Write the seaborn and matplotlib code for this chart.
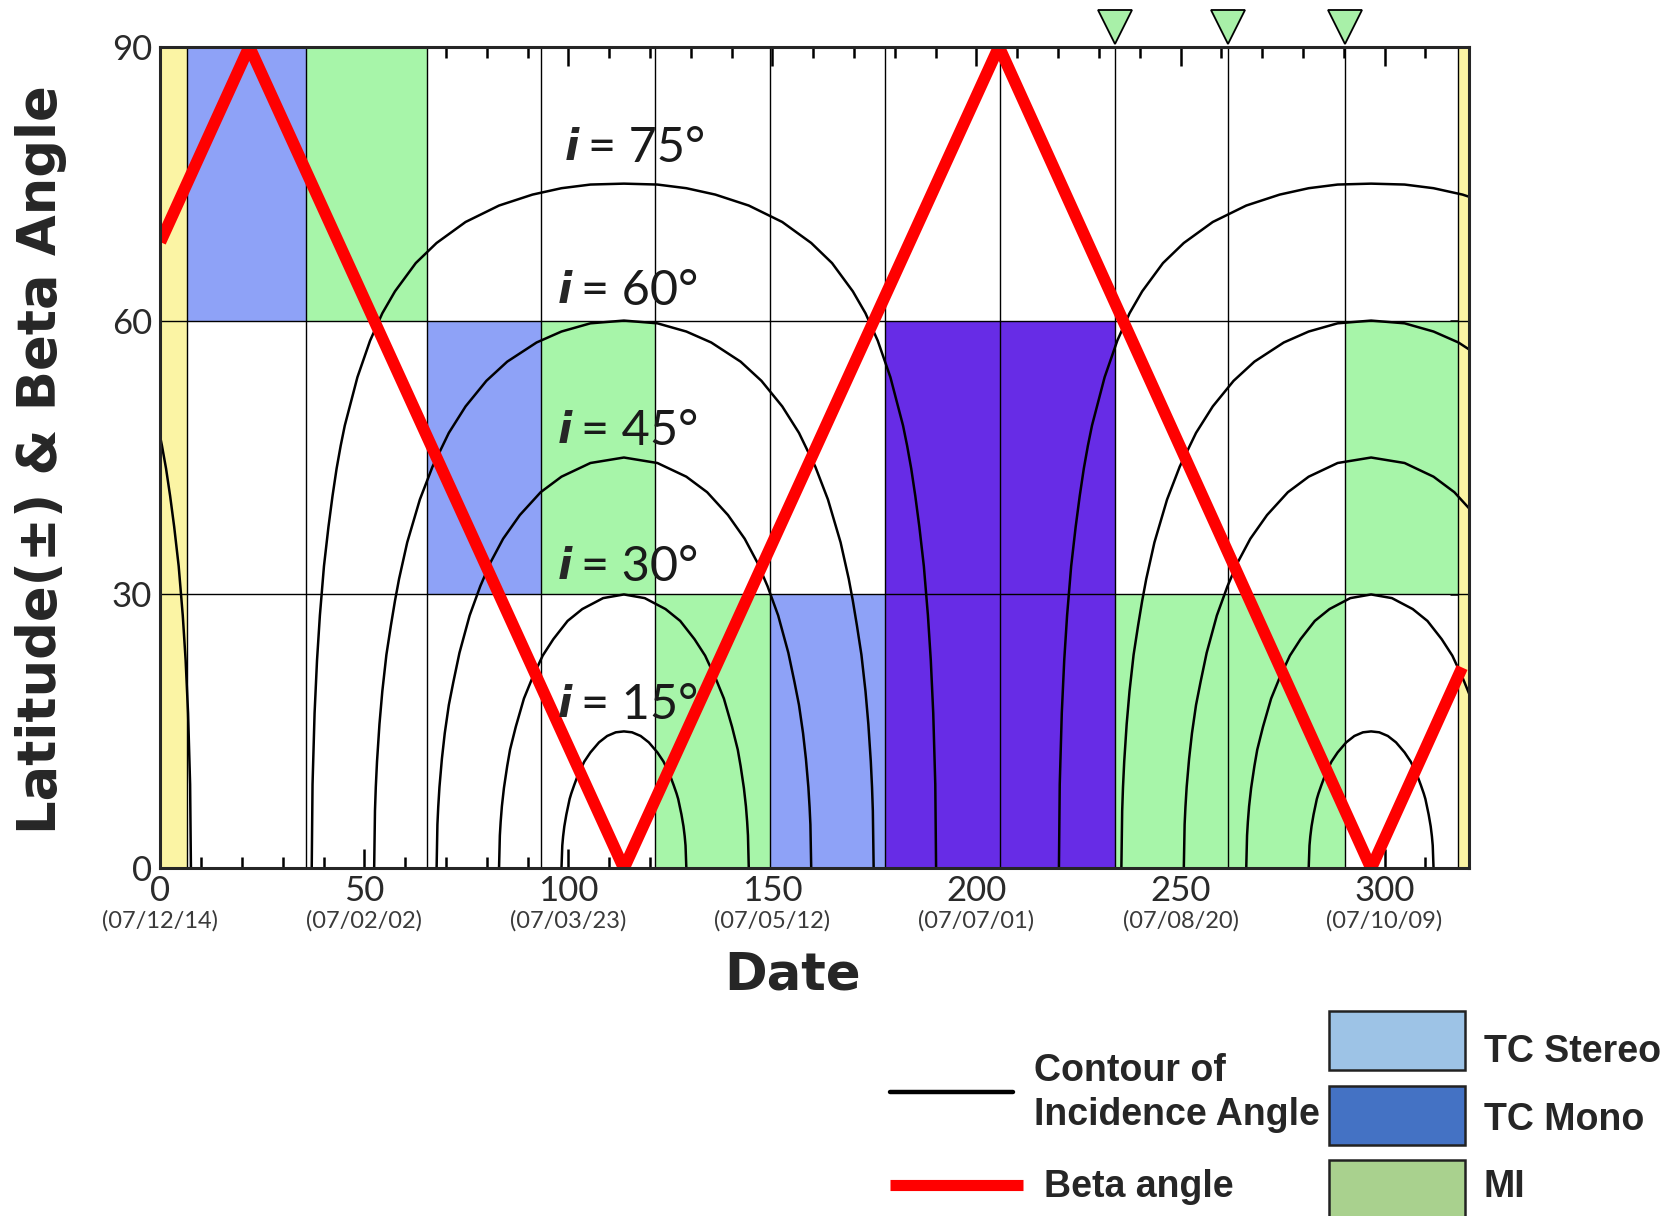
import pandas as pd
import matplotlib
matplotlib.use("Agg")
import matplotlib.pyplot as plt
import seaborn as sns
from matplotlib.lines import Line2D
from matplotlib.patches import Rectangle

# Beta angle (deg) against day number
beta_day = [0, 21.8, 113.6, 205.5, 296.7, 319]
beta_deg = [68.6, 90, 0, 90, 0, 22]

# Incidence-angle contours: half profile
# (days away from a beta minimum, latitude in deg)
contour_centres = [-69.0, 113.6, 296.7]
contour_angles = [75, 60, 45, 30, 15]
off_75 = [76.5, 76.3, 75.8, 75.2, 74.5, 73.5, 72.4, 71.4, 70.4, 69.4, 68.4, 65.3, 62.2,
          59.2, 56.1, 51.0, 45.9, 38.8, 30.6, 22.4, 15.3, 8.2, 0]
lat_75 = [0, 9.2, 17.0, 22.8, 27.7, 33.1, 37.4, 40.8, 43.8, 46.3, 48.5, 53.8, 57.8,
          60.8, 63.2, 66.3, 68.5, 70.8, 72.6, 73.8, 74.5, 74.9, 75]
off_60 = [61.2, 61.0, 60.8, 60.5, 59.9, 59.2, 58.2, 57.1, 56.1, 55.1, 53.1, 50.0, 46.9,
          42.9, 38.8, 33.7, 28.6, 21.4, 15.3, 8.2, 0]
lat_60 = [0, 6.3, 8.9, 11.7, 15.8, 19.4, 23.4, 26.6, 29.3, 31.7, 35.7, 40.4, 44.0,
          47.7, 50.6, 53.4, 55.5, 57.6, 58.8, 59.7, 60]
off_45 = [45.9, 45.7, 45.5, 45.2, 44.6, 43.9, 42.9, 41.8, 40.3, 37.8, 35.2, 32.7, 29.6,
          25.5, 20.4, 15.3, 8.2, 0]
lat_45 = [0, 4.8, 6.7, 8.9, 12.0, 14.8, 17.9, 20.4, 23.6, 27.7, 30.9, 33.5, 36.1,
          38.7, 41.2, 42.9, 44.4, 45]
off_30 = [30.6, 30.4, 30.2, 29.9, 29.4, 28.6, 27.9, 26.5, 24.5, 22.4, 19.9, 17.3, 13.8,
          10.2, 5.1, 0]
lat_30 = [0, 3.6, 5.1, 6.8, 8.8, 11.2, 13.0, 15.5, 18.6, 20.9, 23.3, 25.1, 27.1,
          28.4, 29.6, 30]
off_15 = [15.3, 15.1, 14.9, 14.6, 14.1, 13.3, 12.9, 12.2, 11.2, 9.7, 8.2, 6.1, 4.1, 2.0, 0]
lat_15 = [0, 2.5, 3.5, 4.6, 5.9, 7.6, 8.2, 9.1, 10.3, 11.7, 12.7, 13.8, 14.5, 14.9, 15]
contour_offsets = [off_75, off_60, off_45, off_30, off_15]
contour_lats = [lat_75, lat_60, lat_45, lat_30, lat_15]

# label positions for the contours
label_day = [99.0, 97.4, 97.4, 97.4, 97.4]
label_lat = [78.9, 63.2, 47.9, 33.0, 17.9]

# observation blocks: start day, end day, lat low, lat high, kind
block_start = [0, 6.6, 35.8, 65.4, 93.3, 121.3, 149.3, 177.5, 233.9, 290.2, 317.9]
block_end = [6.6, 35.8, 65.4, 93.3, 121.3, 149.3, 177.5, 233.9, 290.2, 317.9, 320.7]
block_low = [0, 60, 60, 30, 30, 0, 0, 0, 0, 30, 0]
block_high = [90, 90, 90, 60, 60, 30, 30, 60, 30, 60, 90]
block_kind = ["sun", "tc", "mi", "tc", "mi", "mi", "tc", "both", "mi", "mi", "sun"]
block_colors = {"sun": "#fbf4a4", "tc": "#8ea2f7", "mi": "#a7f5a9", "both": "#672ce6"}

grid_days = [6.6, 35.8, 65.4, 93.3, 121.3, 149.3, 177.5, 205.8, 233.9, 261.6, 290.2, 317.9]
grid_lats = [30, 60]
marker_days = [233.9, 261.6, 290.2]

tick_days = [0, 50, 100, 150, 200, 250, 300]
tick_dates = ["(07/12/14)", "(07/02/02)", "(07/03/23)", "(07/05/12)",
              "(07/07/01)", "(07/08/20)", "(07/10/09)"]

legend_names = ["TC Stereo", "TC Mono", "MI"]
legend_colors = ["#9dc3e6", "#4472c4", "#a9d18e"]

# contour table for seaborn
rows = []
for ci, c in enumerate(contour_centres):
    for ang, off, lat in zip(contour_angles, contour_offsets, contour_lats):
        xs = [c - o for o in off] + [c + o for o in off[-2::-1]]
        ys = list(lat) + list(lat[-2::-1])
        for x, y in zip(xs, ys):
            rows.append((f"{ci}_{ang}", x, y))
arcs = pd.DataFrame(rows, columns=["curve", "day", "lat"])

sns.set_style("ticks")
plt.rcParams["font.family"] = ["Lato", "DejaVu Sans"]

W, H = 1677, 1216
fig = plt.figure(figsize=(W / 100, H / 100), dpi=100)
ax = fig.add_axes([0.0956, 0.2859, 0.7804, 0.6757])

for x0, x1, y0, y1, k in zip(block_start, block_end, block_low, block_high, block_kind):
    ax.fill_between([x0, x1], y0, y1, color=block_colors[k], lw=0, zorder=1)

ax.vlines(grid_days, 0, 90, color="black", lw=1.0, zorder=2)
ax.hlines(grid_lats, 0, 320.7, color="black", lw=1.0, zorder=2)

sns.lineplot(data=arcs, x="day", y="lat", units="curve", estimator=None, sort=False,
             color="black", lw=1.8, ax=ax, legend=False, zorder=3,
             solid_joinstyle="round")

sns.lineplot(x=beta_day, y=beta_deg, sort=False, color="#ff0000", lw=8.5, ax=ax,
             solid_joinstyle="miter", solid_capstyle="butt", zorder=4)

ax.plot(marker_days, [92.2] * len(marker_days), ls="none", marker="v", ms=24,
        mfc="#a8f0a8", mec="black", mew=1.3, clip_on=False, zorder=6)

for ang, x, y in zip(contour_angles, label_day, label_lat):
    ax.text(x, y, "i", fontsize=30, fontweight="bold", fontstyle="italic",
            family="DejaVu Sans", ha="left", va="center", zorder=5)
    ax.annotate(f"= {ang}°", (x, y), xytext=(17, 0), textcoords="offset points",
                fontsize=35, fontweight="normal", color="#1a1a1a",
                ha="left", va="center", zorder=5)

ax.set_xlim(0, 320.7)
ax.set_ylim(0, 90)
ax.set_xticks(tick_days)
ax.set_xticks(range(0, 321, 10), minor=True)
ax.set_yticks([0, 30, 60, 90])
ax.set_yticks(range(0, 91, 10), minor=True)
ax.tick_params(which="both", direction="in", top=True, right=True,
               width=1.8, color="black", labelcolor="#2a2a2a")
ax.tick_params(which="major", length=14, labelsize=25)
ax.tick_params(which="minor", length=8)
ax.tick_params(axis="x", pad=5)
ax.tick_params(axis="y", pad=6)
for s in ax.spines.values():
    s.set_linewidth(2.2)
    s.set_zorder(7)
ax.set_xlabel("")
ax.set_ylabel("")

for d, t in zip(tick_days, tick_dates):
    ax.text(d, -0.064, t, transform=ax.get_xaxis_transform(), ha="center",
            va="center", fontsize=17, color="#3a3a3a")

fig.text(793 / W, 1 - 976 / H, "Date", family="DejaVu Sans", fontweight="bold",
         fontsize=37, ha="center", va="center")
fig.text(41 / W, 1 - 460 / H, "Latitude(±) & Beta Angle", family="DejaVu Sans",
         fontweight="bold", fontsize=38, rotation=90, ha="center", va="center")

# legend drawn in figure pixels
def fx(x):
    return x / W

def fy(y):
    return 1 - y / H

narrow = ["Liberation Sans Narrow", "Liberation Sans"]
fig.add_artist(Line2D([fx(890), fx(1013)], [fy(1092), fy(1092)], color="black", lw=3.2))
fig.text(fx(1034), fy(1093), "Contour of\nIncidence Angle", family=narrow,
         fontweight="bold", fontsize=27, ha="left", va="center", linespacing=1.3)
fig.add_artist(Line2D([fx(890), fx(1023)], [fy(1185), fy(1185)], color="#ff0000", lw=8,
                      solid_capstyle="butt"))
fig.text(fx(1044), fy(1187), "Beta angle", family=narrow, fontweight="bold",
         fontsize=27, ha="left", va="center")

box_top = [1011, 1086, 1160]
label_y = [1052, 1120, 1187]
for name, col, top, ly in zip(legend_names, legend_colors, box_top, label_y):
    fig.add_artist(Rectangle((fx(1329), fy(top + 59)), fx(1465) - fx(1329), 59 / H,
                             facecolor=col, edgecolor="#222222", lw=1.8))
    fig.text(fx(1484), fy(ly), name, family=narrow, fontweight="bold",
             fontsize=27, ha="left", va="center")

fig.savefig("out.png", dpi=100)
